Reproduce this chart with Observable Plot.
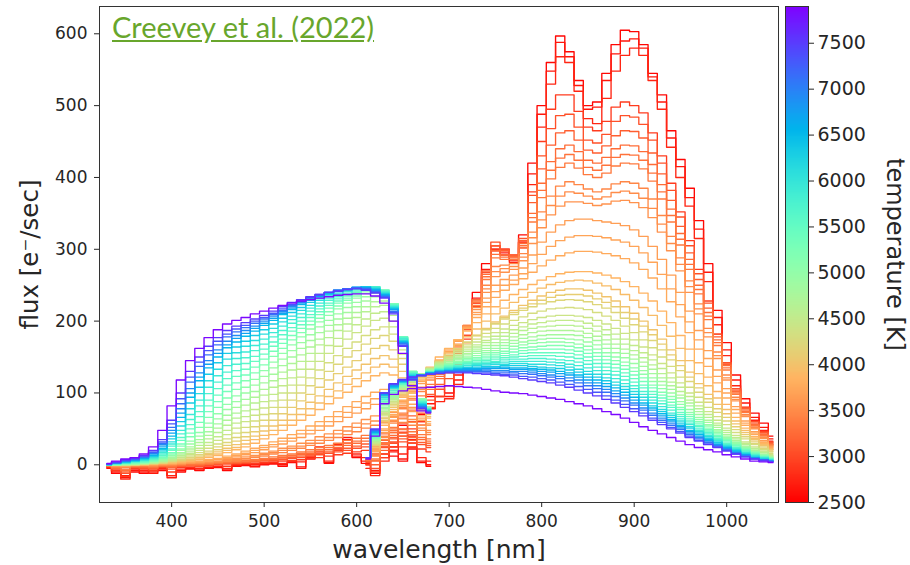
<!DOCTYPE html>
<html><head><meta charset="utf-8">
<script src="https://cdn.jsdelivr.net/npm/d3@7"></script>
<script src="https://cdn.jsdelivr.net/npm/@observablehq/plot@0.6"></script>
<style>
body{margin:0;background:#fff;}
#wrap{position:relative;width:910px;height:565px;overflow:hidden;background:#fff;}
#main{position:absolute;left:0;top:0;}
#cbar{position:absolute;left:785px;top:0;}
#title{position:absolute;left:112px;top:10px;font-family:Lato;font-size:29px;line-height:1.2;color:#68a62c;text-decoration:underline;white-space:nowrap;}
</style></head><body>
<div id="wrap"><div id="main"></div><div id="cbar"></div><div id="title">Creevey et al. (2022)</div></div>
<script>
const temperatures = [2550,2650,2750,2900,3050,3150,3250,3300,3350,3450,3500,3550,3650,3700,3750,3850,3925,4000,4100,4200,4300,4400,4500,4600,4700,4800,4900,5000,5150,5300,5450,5600,5750,5900,6100,6300,6500,6700,6900,7100,7300,7500,7850];
const bpWavelength = [330,340,350,360,370,380,390,400,410,420,430,440,450,460,470,480,490,500,510,520,530,540,550,560,570,580,590,600,610,620,630,640,650,660,670,680];
const rpWavelength = [610,620,630,640,650,660,670,680,690,700,710,720,730,740,750,760,770,780,790,800,810,820,830,840,850,860,870,880,890,900,910,920,930,940,950,960,970,980,990,1000,1010,1020,1030,1040,1050];
const xTicks = [400,500,600,700,800,900,1000];
const yTicks = [0,100,200,300,400,500,600];
const tempTicks = [2500,3000,3500,4000,4500,5000,5500,6000,6500,7000,7500];

const bpFlux = [
[-5,-12,-15,-10,-12,-8,-8,-15,-10,-6,-8,-5,-4,-8,-2,-1,-3,0,1,-2,3,-3,8,18,2,22,35,10,2,15,25,12,5,22,3,-2],
[-4,-10,-18,-8,-10,-12,-6,-18,-8,-5,-6,-4,-3,-6,-1,0,-2,1,2,0,4,-5,12,25,3,28,38,12,5,20,30,18,8,30,5,0],
[-3,-8,-20,-6,-8,-10,-5,-15,-6,-4,-5,-3,-2,-5,0,1,0,2,3,2,5,4,10,15,5,20,30,15,10,25,28,20,15,25,10,5],
[-3,-8,-16,-5,-6,-8,-4,-10,-4,-3,-3,-1,0,-2,1,2,2,3,4,5,6,7,9,10,12,14,16,18,20,22,24,25,25,24,22,18],
[-2,-6,-12,-4,-5,-6,-3,-6,-2,-1,-2,0,1,1,2,3,4,5,6,7,9,10,12,14,16,18,20,23,25,28,30,32,32,30,28,24],
[-2,-5,-10,-3,-4,-5,-2,-4,-1,-1,-1,0,1,2,3,3,4,6,7,8,10,12,14,16,18,21,23,26,29,32,34,36,36,34,31,27],
[-2,-5,-8,-3,-3,-4,-2,-3,-1,0,0,1,2,3,3,4,5,7,8,10,12,14,16,19,21,24,27,30,33,36,39,41,40,38,35,30],
[-1,-4,-7,-2,-2,-3,-1,-2,-1,0,1,1,2,3,4,5,6,8,9,11,13,16,18,21,24,27,30,33,37,40,43,45,44,42,38,33],
[-1,-4,-6,-2,-2,-3,-1,-1,0,1,1,2,3,4,5,6,7,9,11,13,15,18,21,24,27,30,34,37,41,45,48,50,49,46,42,36],
[-1,-3,-4,-1,-1,-2,0,0,1,2,2,3,4,5,6,8,10,12,15,17,20,23,27,30,34,38,42,46,51,55,59,61,59,55,48,42],
[0,-2,-3,-1,0,-1,0,0,1,2,2,3,4,6,7,9,11,14,17,20,23,26,30,34,38,43,47,52,57,61,65,67,64,59,51,45],
[0,-2,-2,-1,0,0,0,1,1,2,3,4,5,7,9,11,13,16,19,23,26,30,34,39,43,48,53,58,63,68,72,73,70,63,55,48],
[0,-1,-2,0,0,0,1,1,2,3,4,5,7,9,11,14,17,21,25,29,33,38,43,48,54,60,66,72,78,84,88,88,83,74,62,55],
[0,-1,-1,0,0,0,1,1,2,3,4,6,8,10,13,16,20,24,28,33,37,43,48,54,60,67,73,80,86,92,96,96,89,79,65,57],
[0,-1,-1,0,0,1,1,2,3,4,5,7,9,12,15,19,23,27,32,37,42,48,54,60,67,74,81,88,95,101,105,104,96,84,68,60],
[0,0,-1,0,0,1,2,2,4,5,7,10,13,17,21,25,30,36,42,48,55,62,69,77,85,93,101,109,117,124,128,125,113,95,75,65],
[0,0,0,0,0,1,2,3,4,6,8,12,15,20,24,29,35,41,48,55,62,70,78,86,95,103,112,120,128,136,140,136,121,100,77,67],
[0,0,0,0,1,1,2,3,5,7,10,14,18,23,28,34,40,47,54,62,70,78,87,96,105,114,123,132,140,148,152,147,130,105,80,70],
[0,0,0,0,1,1,2,4,6,8,12,16,21,27,33,39,46,54,62,71,80,89,98,108,118,127,136,145,154,162,166,160,140,110,83,72],
[0,0,0,0,1,2,3,5,7,10,14,19,25,31,38,45,53,62,71,80,90,100,110,120,130,140,150,159,168,176,180,172,148,115,85,74],
[0,0,0,0,1,2,3,5,8,12,17,23,29,36,44,52,61,70,80,90,100,111,121,132,142,152,162,171,180,188,192,182,154,118,88,76],
[0,0,0,1,1,2,4,6,10,14,20,27,34,42,51,60,69,79,89,100,111,122,133,144,155,165,175,184,193,201,204,192,160,122,90,78],
[0,0,0,1,1,2,4,7,11,16,23,31,39,48,58,67,77,88,98,110,121,133,144,155,166,176,186,195,203,211,213,200,165,124,91,79],
[0,0,0,1,2,3,5,8,13,19,27,36,45,55,65,75,86,97,108,120,132,144,155,167,177,187,196,205,213,220,222,208,170,126,92,80],
[0,0,1,1,2,3,5,9,15,22,31,41,51,62,72,83,94,105,117,129,141,153,164,175,186,195,204,212,220,227,228,213,172,127,92,80],
[0,0,1,1,2,4,6,10,17,25,35,46,57,69,80,91,102,114,126,138,150,162,173,184,194,203,212,220,228,234,234,218,175,128,92,80],
[0,0,1,1,2,4,7,12,20,29,40,52,64,77,88,100,111,123,135,147,159,170,181,192,201,210,219,226,234,239,238,221,177,129,92,80],
[0,0,1,2,3,5,8,13,22,33,45,58,71,84,96,108,119,131,143,155,167,178,189,199,208,217,225,232,239,244,242,224,178,130,92,80],
[0,1,1,2,3,5,9,15,26,39,52,66,80,93,105,117,128,139,151,162,174,184,195,204,213,221,229,235,242,246,243,224,178,130,91,80],
[0,1,2,3,4,6,10,17,29,44,59,74,88,102,114,125,136,147,158,169,180,190,200,209,218,225,232,238,244,247,243,224,178,130,90,79],
[0,1,2,3,4,7,12,20,34,50,67,82,97,111,123,133,144,154,165,175,186,195,205,213,222,228,235,240,246,248,243,223,178,129,89,78],
[0,1,2,4,5,8,13,22,38,56,74,90,106,120,131,141,151,161,171,181,191,200,209,217,225,231,237,242,247,248,242,222,177,128,88,78],
[0,1,3,4,6,9,15,26,43,63,82,99,115,129,140,149,159,168,178,187,197,205,214,221,229,234,239,244,248,248,241,221,176,127,87,77],
[0,2,3,5,7,10,17,29,48,70,90,108,124,138,148,157,166,175,184,193,202,210,218,225,232,237,241,245,248,247,240,220,175,126,86,77],
[0,2,3,5,7,11,19,32,54,78,99,117,133,147,156,165,173,182,190,199,207,215,222,229,235,239,243,246,248,246,239,219,173,125,85,76],
[0,2,4,6,8,12,21,36,60,86,108,126,142,155,164,172,180,188,196,204,212,219,226,232,237,241,244,247,248,245,238,218,172,124,84,76],
[1,2,4,6,9,13,23,40,66,94,117,135,150,163,171,179,186,194,201,209,216,223,229,234,239,242,245,247,247,244,237,217,171,123,83,75],
[1,3,5,7,10,15,26,44,72,100,122,140,155,167,176,183,190,197,204,211,218,224,230,235,239,243,245,247,246,243,236,216,170,122,82,75],
[1,3,5,7,10,16,28,48,78,106,128,145,160,172,180,187,193,200,207,213,220,226,231,236,240,243,245,247,246,242,235,214,169,121,81,74],
[1,3,6,8,11,17,30,52,85,115,137,153,167,178,185,191,197,203,209,215,222,227,232,236,240,243,245,246,245,241,234,213,168,120,80,74],
[1,3,6,8,12,18,32,57,92,122,143,159,172,182,189,194,200,205,211,217,223,228,233,237,240,242,244,246,244,240,233,212,166,119,79,73],
[1,4,7,9,13,20,35,62,100,130,150,165,177,187,193,198,203,208,214,220,226,230,234,237,240,242,244,245,243,239,232,210,165,118,78,73],
[2,5,8,10,15,25,48,82,118,145,162,177,188,196,201,205,210,214,218,222,225,228,230,232,234,236,237,238,238,235,225,200,155,110,75,72]
];

const rpFlux = [
[5,-12,15,30,55,40,70,95,105,100,125,190,240,280,305,300,290,320,420,500,560,597,575,535,500,505,545,585,605,603,585,545,515,465,425,385,340,280,215,170,125,92,72,58,40],
[0,-8,10,25,45,35,60,85,95,95,118,180,232,272,300,295,285,310,405,488,548,588,568,528,495,498,535,572,590,593,580,540,505,455,415,372,328,268,205,160,118,86,66,52,36],
[-5,-15,5,20,40,30,55,78,88,92,112,170,225,265,298,292,282,302,390,470,530,568,560,520,482,475,510,548,570,580,570,535,495,442,400,360,315,255,195,152,110,80,62,48,33],
[0,-10,10,25,45,50,60,80,95,110,130,175,220,262,300,298,290,310,380,450,495,515,515,492,470,465,478,498,505,500,490,462,430,392,352,312,272,228,182,142,106,80,60,46,32],
[3,-5,15,30,50,60,72,90,105,120,140,180,225,268,310,300,292,315,375,430,468,486,488,470,452,448,460,478,486,484,474,452,420,382,345,305,266,225,182,142,106,80,60,45,31],
[5,0,20,38,58,68,80,98,112,128,148,188,230,270,305,298,292,312,365,412,445,462,465,452,438,434,444,458,465,464,455,434,405,368,332,295,258,218,178,140,104,78,58,44,30],
[6,5,25,45,65,76,88,105,120,135,155,192,230,265,298,292,290,308,350,392,422,440,445,436,424,420,428,440,445,444,436,418,390,356,322,286,250,212,174,138,102,76,56,42,29],
[6,6,28,48,68,80,92,108,123,138,158,193,228,262,293,289,288,305,344,382,410,427,432,424,414,410,417,428,432,431,424,406,380,347,314,279,244,207,170,135,100,74,55,41,28],
[7,8,30,52,72,84,96,112,126,140,160,194,226,258,288,286,286,302,338,372,398,414,420,413,404,400,406,416,420,419,412,395,370,338,306,272,238,202,166,132,98,73,54,40,28],
[8,12,35,58,78,90,102,118,132,146,164,194,222,250,276,278,280,294,324,352,374,388,394,390,384,380,384,391,394,392,385,370,347,318,288,256,224,190,157,125,94,70,52,38,27],
[8,13,38,60,80,92,105,121,135,149,166,193,219,245,269,273,276,289,316,341,361,374,380,378,374,370,373,379,381,378,371,357,335,308,279,248,217,184,152,121,91,68,51,37,26],
[9,15,40,62,82,95,108,124,138,152,168,192,216,240,262,268,272,284,308,330,348,360,366,366,364,361,363,367,368,365,358,344,324,298,270,240,210,178,148,118,89,67,50,37,26],
[9,18,45,66,86,100,113,128,142,156,172,192,212,232,250,258,264,274,292,310,324,334,340,342,342,340,338,336,333,327,318,304,286,264,240,214,187,159,132,106,81,61,46,34,25],
[10,19,48,68,88,102,116,130,144,158,173,191,209,226,241,250,257,266,280,293,304,312,317,319,319,318,316,313,310,304,295,282,265,245,223,199,174,148,123,100,77,58,44,32,24],
[10,20,50,70,90,104,118,132,146,160,174,190,205,220,233,243,251,259,268,277,285,291,295,297,297,296,294,291,287,281,272,260,245,227,206,184,161,137,114,93,72,55,42,31,23],
[10,22,55,74,94,108,122,136,150,162,174,186,198,210,220,229,237,244,251,257,262,266,268,269,269,267,264,260,255,248,239,228,214,198,180,161,142,122,102,84,66,51,39,30,22],
[10,24,58,77,96,109,121,133,145,156,167,178,189,200,210,218,226,233,240,246,251,254,256,257,256,253,249,244,237,229,219,208,194,179,162,145,127,110,93,77,61,48,37,28,21],
[10,25,60,80,98,110,121,131,141,150,160,170,180,190,199,207,215,222,229,235,240,243,245,245,243,239,234,228,220,211,200,188,175,160,145,129,113,98,84,71,57,45,35,27,21],
[10,27,62,82,100,112,123,133,142,151,161,170,180,189,197,205,212,218,224,229,233,236,237,237,235,231,226,220,212,203,193,181,168,153,138,122,107,92,78,66,53,42,33,25,19],
[10,28,65,84,102,114,125,135,144,153,162,171,180,188,196,203,209,215,220,224,227,229,230,229,227,223,218,212,204,195,185,173,160,146,131,116,101,87,73,61,49,39,30,23,18],
[10,29,68,86,104,115,125,134,143,151,159,167,175,183,190,196,201,206,211,214,217,218,219,218,216,212,207,201,193,184,174,163,150,137,122,108,94,80,67,56,45,36,28,21,16],
[10,30,70,88,105,116,126,134,142,149,157,164,171,178,184,189,194,198,202,205,207,208,208,207,205,201,196,190,183,174,164,153,141,128,114,100,87,74,62,51,41,32,25,19,14],
[10,31,72,90,106,116,126,133,141,147,154,161,167,173,179,184,188,192,196,198,200,201,201,200,197,193,188,182,175,166,156,146,134,121,108,95,82,70,58,48,38,30,23,18,13],
[10,32,74,91,107,117,126,133,140,146,152,158,164,170,175,179,183,187,190,192,193,194,194,193,190,186,181,175,168,159,149,139,127,115,102,90,78,66,55,45,36,28,22,17,12],
[10,33,76,92,108,117,126,132,139,144,150,155,161,166,170,174,178,181,184,186,187,187,187,186,183,179,174,168,161,153,143,133,121,110,97,86,74,62,52,42,34,26,20,15,11],
[10,34,78,94,109,118,126,132,138,143,148,153,158,162,166,170,173,176,178,180,181,181,181,180,177,173,168,162,155,147,137,127,116,105,93,82,70,59,49,40,32,25,19,14,11],
[10,35,80,95,110,118,125,131,137,141,146,150,155,159,162,166,169,171,173,175,176,176,175,174,171,167,162,156,149,141,131,121,111,100,88,77,66,56,47,38,31,24,18,14,10],
[10,36,82,97,110,118,125,131,136,140,144,148,152,156,159,162,165,167,169,170,171,171,170,168,165,161,156,150,143,135,126,116,106,95,84,73,63,54,45,37,30,23,18,13,10],
[10,37,84,98,111,118,125,130,135,139,142,146,149,153,156,158,161,163,164,165,166,166,165,163,160,156,151,145,138,130,121,111,101,91,80,70,60,51,43,35,28,22,17,12,9],
[10,38,86,100,112,119,125,130,134,138,141,144,147,150,153,155,157,159,160,161,161,161,160,158,155,151,146,140,133,125,116,107,97,87,77,67,58,49,41,34,27,21,16,12,9],
[10,39,88,101,112,119,125,129,133,137,139,142,145,147,150,152,153,155,156,156,156,156,155,153,150,146,141,135,128,120,111,102,93,83,73,64,55,47,39,32,25,20,15,11,8],
[10,40,90,103,113,120,125,129,133,136,138,141,143,145,147,149,150,151,152,152,152,151,150,148,145,141,136,130,123,115,107,98,89,80,70,61,53,45,37,30,24,19,14,11,8],
[10,41,91,104,114,120,125,129,132,135,137,139,141,143,144,146,147,147,148,148,147,146,145,143,140,136,131,125,118,110,102,94,85,76,67,58,50,43,35,28,23,18,13,10,7],
[10,42,93,106,115,121,125,129,132,134,136,138,140,141,142,143,144,144,144,144,143,142,140,138,135,131,126,120,113,106,98,90,81,72,64,56,48,41,34,27,22,17,13,10,7],
[10,43,94,107,115,121,125,128,131,133,135,136,138,139,140,140,141,141,140,140,139,138,136,133,130,126,121,115,109,102,94,86,77,69,61,53,46,39,32,26,21,16,12,9,6],
[10,44,96,108,116,121,125,128,130,132,134,135,136,137,137,138,138,138,137,136,135,134,132,129,126,122,117,111,105,98,90,82,74,66,58,51,44,37,31,25,20,15,11,8,6],
[10,45,97,109,116,121,125,128,130,131,133,134,134,135,135,136,135,135,134,133,132,130,128,125,122,118,113,107,101,94,86,79,71,63,55,48,42,35,29,24,19,14,10,7,5],
[10,46,98,110,117,122,125,128,130,131,132,133,133,134,134,134,133,133,132,130,129,127,125,122,118,114,109,103,97,90,83,76,68,61,53,46,40,34,28,23,18,14,10,7,5],
[10,47,99,111,117,122,125,127,129,130,131,131,131,132,131,131,130,130,129,127,125,123,121,118,114,110,105,99,93,86,79,72,65,58,51,44,38,32,27,22,17,13,9,7,5],
[10,48,100,112,118,122,125,127,129,130,130,130,130,130,129,129,128,127,126,124,122,120,117,114,110,106,101,95,89,83,76,69,62,55,49,42,36,31,26,21,16,12,9,6,5],
[10,49,100,112,118,122,124,126,128,129,129,129,128,128,127,126,125,123,122,120,118,115,112,109,105,101,96,90,84,78,72,65,59,52,46,40,34,29,25,20,15,11,8,6,4],
[10,50,100,113,119,122,124,126,127,128,128,128,127,126,125,124,122,120,118,116,114,111,108,104,100,96,91,86,80,74,68,62,56,50,44,38,33,28,24,19,15,11,8,6,4],
[8,40,85,98,103,106,107,108,109,110,109,108,107,105,103,101,100,99,97,95,93,91,88,85,82,78,74,70,65,59,53,48,43,38,33,28,24,21,18,14,11,8,5,4,3]
];

// matplotlib "rainbow" colormap (purple -> red); low temperature = red
function mplRainbow(x) {
  const r = Math.min(1, Math.abs(2 * x - 0.5));
  const g = Math.max(0, Math.sin(Math.PI * x));
  const b = Math.max(0, Math.cos(Math.PI * x / 2));
  return `rgb(${Math.round(255*r)},${Math.round(255*g)},${Math.round(255*b)})`;
}
const colorOpts = {type: "linear", domain: [2500, 7900], interpolate: t => mplRainbow(1 - t)};

const rows = [];
temperatures.forEach((T, i) => {
  bpWavelength.forEach((w, j) => rows.push({id: "bp" + i, T, w, f: bpFlux[i][j]}));
  rpWavelength.forEach((w, j) => rows.push({id: "rp" + i, T, w, f: rpFlux[i][j]}));
});

const main = Plot.plot({
  width: 780, height: 565,
  marginLeft: 99, marginRight: 2, marginTop: 6, marginBottom: 63,
  x: {domain: [322, 1056]},
  y: {domain: [-52.5, 638]},
  color: colorOpts,
  style: {fontFamily: "DejaVu Sans", color: "#262626", background: "transparent", overflow: "visible"},
  marks: [
    Plot.line(rows, {x: "w", y: "f", z: "id", stroke: "T", curve: "step", strokeWidth: 1.35}),
    Plot.frame({stroke: "#333"}),
    Plot.axisX({ticks: xTicks, tickFormat: d => String(d), tickSize: 5, tickPadding: 7, fontSize: 17, label: null}),
    Plot.axisY({ticks: yTicks, tickFormat: d => String(d), tickSize: 5, tickPadding: 7, fontSize: 17, label: null}),
    Plot.text(["wavelength [nm]"], {frameAnchor: "bottom", textAnchor: "middle", lineAnchor: "middle", dy: 47, fontSize: 25, fill: "#262626"}),
    Plot.text(["flux [e\u207B/sec]"], {frameAnchor: "left", textAnchor: "middle", lineAnchor: "middle", dx: -69, rotate: -90, fontSize: 24.5, fill: "#262626"})
  ]
});
document.getElementById("main").appendChild(main);

const ramp = d3.range(2500, 7900, 10);
const cbar = Plot.plot({
  width: 125, height: 565,
  marginLeft: 0, marginRight: 102, marginTop: 6, marginBottom: 63,
  x: {domain: [0, 1], axis: null},
  y: {domain: [2500, 7900]},
  color: colorOpts,
  style: {fontFamily: "DejaVu Sans", color: "#262626", background: "transparent", overflow: "visible"},
  marks: [
    Plot.rect(ramp, {x1: () => 0, x2: () => 1, y1: d => d, y2: d => d + 10, fill: d => d, shapeRendering: "crispEdges"}),
    Plot.frame({stroke: "#333"}),
    Plot.axisY({anchor: "right", ticks: tempTicks, tickFormat: d => String(d), tickSize: 5, tickPadding: 4, fontSize: 19, label: null}),
    Plot.text(["temperature [K]"], {frameAnchor: "right", textAnchor: "middle", lineAnchor: "middle", dx: 86, rotate: 90, fontSize: 24, fill: "#262626"})
  ]
});
document.getElementById("cbar").appendChild(cbar);
</script>
</body></html>
